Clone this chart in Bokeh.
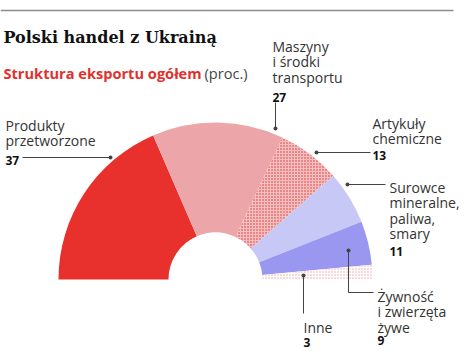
import numpy as np
from bokeh.plotting import figure
from bokeh.models import Range1d
from bokeh.core.properties import value
from bokeh.embed import file_html
from bokeh.resources import INLINE

# ---- data ----
categories = ["Produkty przetworzone", "Maszyny i środki transportu", "Artykuły chemiczne",
              "Surowce mineralne, paliwa, smary", "Żywność i zwierzęta żywe", "Inne"]
values = [37, 27, 13, 11, 9, 3]
label_lines = [["Produkty", "przetworzone"],
               ["Maszyny", "i środki", "transportu"],
               ["Artykuły", "chemiczne"],
               ["Surowce", "mineralne,", "paliwa,", "smary"],
               ["Żywność", "i zwierzęta", "żywe"],
               ["Inne"]]
title = "Polski handel z Ukrainą"
subtitle_bold = "Struktura eksportu ogółem"
subtitle_unit = "(proc.)"

# ---- styles ----
fills = ["#e8302c", "#eca6a9", "#f3bfc0", "#c8c8f6", "#9a97f0", "#ffffff"]
hatches = ["blank", "blank", "dot", "blank", "blank", "dot"]
hatch_cols = ["#e03535", "#e03535", "#dd2f2f", "#e03535", "#e03535", "#f0a0a0"]
hatch_w = [1, 1, 1.7, 1, 1, 1.5]

W, H = 475, 351
def Y(py):
    return H - py

p = figure(width=W, height=H, x_range=Range1d(0, W), y_range=Range1d(0, H),
           output_backend="svg", toolbar_location=None, min_border=0,
           x_axis_location=None, y_axis_location=None)
p.grid.visible = False
p.outline_line_color = None
p.background_fill_color = "white"
p.border_fill_color = "white"

# ---- half donut ----
cx, cy = 215, Y(279)
r_in, r_out = 47, 157
tot = float(sum(values))
cum = np.concatenate([[0], np.cumsum(values)])
starts = np.pi - cum[:-1] / tot * np.pi
ends = np.pi - cum[1:] / tot * np.pi
for i in range(len(values)):
    p.annular_wedge(x=cx, y=cy, inner_radius=r_in, outer_radius=r_out,
                    start_angle=ends[i], end_angle=starts[i],
                    fill_color=fills[i], line_color=None,
                    hatch_pattern=hatches[i], hatch_color=hatch_cols[i],
                    hatch_scale=3, hatch_weight=hatch_w[i])

# ---- header ----
p.line(x=[0, 453], y=[Y(10), Y(10)], line_color="#8c8c8c", line_width=1.5)
p.text(x=[3], y=[Y(37)], text=[title], text_font=value("DejaVu Serif"),
       text_font_style="bold", text_font_size="16px", text_color="#111111",
       text_baseline="alphabetic")
p.text(x=[3], y=[Y(72)], text=[subtitle_bold], text_font=value("Open Sans"),
       text_font_style="bold", text_font_size="14.6px", text_color="#e0312d",
       text_baseline="alphabetic")
p.text(x=[204], y=[Y(72)], text=[subtitle_unit], text_font=value("Open Sans"),
       text_font_size="14.6px", text_color="#444444", text_baseline="alphabetic")

# ---- labels ----
lab_x = [5, 272, 372, 389, 377, 303]
lab_y0 = [125, 46, 123, 187, 296, 327]   # baseline of first line
num_y = [160, 97, 155, 251, 340, 342]
lh = 15.3
for i in range(len(values)):
    for j, t in enumerate(label_lines[i]):
        p.text(x=[lab_x[i]], y=[Y(lab_y0[i] + j * lh)], text=[t],
               text_font=value("Open Sans"), text_font_size="14px",
               text_color="#333333", text_baseline="alphabetic")
    p.text(x=[lab_x[i]], y=[Y(num_y[i])], text=[str(values[i])],
           text_font=value("Open Sans"), text_font_style="bold",
           text_font_size="12px", text_color="#111111", text_baseline="alphabetic")

# ---- leaders ----
leaders = [
    [(22, 157), (110, 157)],
    [(275, 102), (275, 128)],
    [(370, 152), (316, 152)],
    [(385, 184), (347, 184)],
    [(373, 292), (348, 292), (348, 250)],
    [(303, 313), (303, 275)],
]
for pts in leaders:
    xs = [q[0] for q in pts]
    ys = [Y(q[1]) for q in pts]
    p.line(x=xs, y=ys, line_color="#444444", line_width=1)
    p.scatter(x=[xs[-1]], y=[ys[-1]], size=4, fill_color="#444444", line_color=None)

open("out.html", "w").write(file_html(p, INLINE))
